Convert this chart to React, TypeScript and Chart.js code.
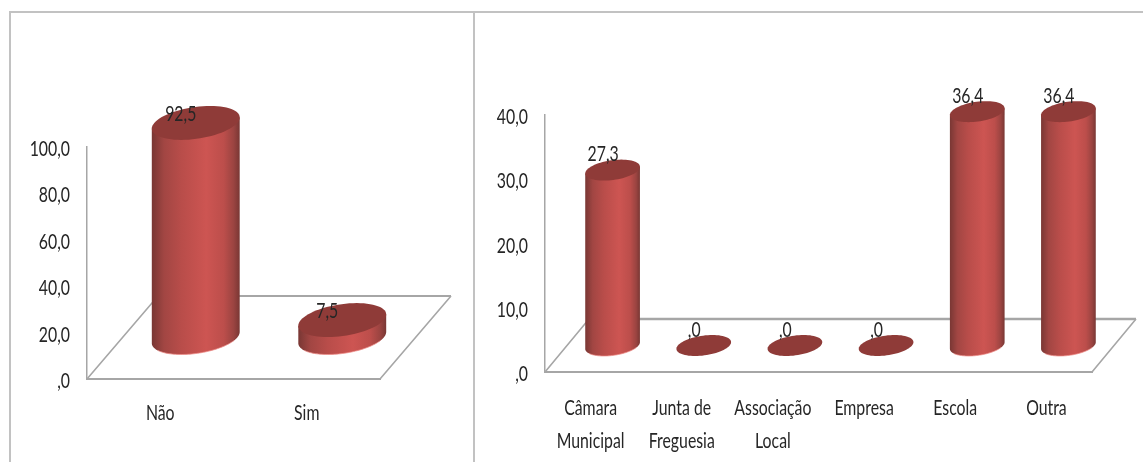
import React, { useEffect, useRef } from "react";
import { Chart, registerables } from "chart.js";

Chart.register(...registerables);

const answerCategories = ["Não", "Sim"];
const answerValues = [92.5, 7.5];

const entityCategories = [
  ["Câmara", "Municipal"],
  ["Junta de", "Freguesia"],
  ["Associação", "Local"],
  ["Empresa"],
  ["Escola"],
  ["Outra"],
];
const entityValues = [27.3, 0, 0, 0, 36.4, 36.4];

const FONT = '22px Lato, "Liberation Sans", sans-serif';
const TEXT_COLOR = "#262626";
const TEXT_SQUEEZE = 0.72;
const FLOOR_COLOR = "#a6a6a6";
const FRAME_COLOR = "#c2c2c2";

// Comma-decimal format; zero is written without a leading digit.
const formatValue = (v: number) =>
  v === 0 ? ",0" : v.toFixed(1).replace(".", ",");

type ChartLook = {
  depthX: number;
  depthY: number;
  capRadiusY: number;
  labelDx: number;
  labelDy: number;
  backLineWidth: number;
  xLabelOffset: number;
  xLineGap: number;
};

// Points along a circle lying on the sheared floor plane.
function capPoint(cx: number, cy: number, u: number, vx: number, vy: number, t: number) {
  return [cx + u * Math.cos(t) + vx * Math.sin(t), cy - vy * Math.sin(t)];
}

// All text is horizontally condensed around its anchor.
function drawCondensed(ctx: CanvasRenderingContext2D, text: string, x: number, y: number, align: CanvasTextAlign) {
  ctx.save();
  ctx.font = FONT;
  ctx.fillStyle = TEXT_COLOR;
  ctx.textAlign = align;
  ctx.textBaseline = "middle";
  ctx.translate(x, y);
  ctx.scale(TEXT_SQUEEZE, 1);
  ctx.fillText(text, 0, 0);
  ctx.restore();
}

const floorAndCylinders = {
  id: "floorAndCylinders",
  beforeDatasetsDraw(chart: any, _args: any, opts: ChartLook) {
    const { ctx, chartArea: a } = chart;
    ctx.save();
    ctx.strokeStyle = FLOOR_COLOR;
    ctx.lineWidth = 1.6;
    ctx.beginPath();
    ctx.moveTo(a.left, a.bottom);
    ctx.lineTo(a.left + opts.depthX, a.bottom - opts.depthY);
    ctx.moveTo(a.right, a.bottom);
    ctx.lineTo(a.right + opts.depthX, a.bottom - opts.depthY);
    ctx.stroke();
    ctx.lineWidth = opts.backLineWidth;
    ctx.beginPath();
    ctx.moveTo(a.left + opts.depthX, a.bottom - opts.depthY);
    ctx.lineTo(a.right + opts.depthX, a.bottom - opts.depthY);
    ctx.stroke();
    ctx.restore();
  },
  afterDatasetsDraw(chart: any, _args: any, opts: ChartLook) {
    const { ctx } = chart;
    const meta = chart.getDatasetMeta(0);
    const values = chart.data.datasets[0].data as number[];
    meta.data.forEach((bar: any, i: number) => {
      const halfW = bar.width / 2;
      const vy = opts.capRadiusY;
      const vx = (vy * opts.depthX) / opts.depthY;
      const u = Math.sqrt(halfW * halfW - vx * vx);
      const t0 = Math.atan2(vx, u);
      const cx = bar.x + opts.depthX / 2;
      const topY = bar.y - opts.depthY / 2;
      const baseY = bar.base - opts.depthY / 2;
      const steps = 72;

      if (values[i] > 0) {
        const grad = ctx.createLinearGradient(cx - halfW, 0, cx + halfW, 0);
        grad.addColorStop(0, "#793734");
        grad.addColorStop(0.14, "#a24643");
        grad.addColorStop(0.34, "#b94d4a");
        grad.addColorStop(0.62, "#cd5552");
        grad.addColorStop(0.82, "#bc4e4b");
        grad.addColorStop(0.93, "#9b4441");
        grad.addColorStop(1, "#793734");
        ctx.beginPath();
        const [lx, ly] = capPoint(cx, topY, u, vx, vy, t0 + Math.PI);
        ctx.moveTo(lx, ly);
        for (let s = 0; s <= steps; s++) {
          const [px, py] = capPoint(cx, baseY, u, vx, vy, t0 + Math.PI + (Math.PI * s) / steps);
          ctx.lineTo(px, py);
        }
        const [rx, ry] = capPoint(cx, topY, u, vx, vy, t0);
        ctx.lineTo(rx, ry);
        ctx.closePath();
        ctx.fillStyle = grad;
        ctx.fill();

        // Thin pale rim along the lower edge of the cylinder.
        ctx.beginPath();
        for (let s = 12; s <= steps - 12; s++) {
          const [px, py] = capPoint(cx, baseY, u, vx, vy, t0 + Math.PI + (Math.PI * s) / steps);
          if (s === 12) ctx.moveTo(px, py);
          else ctx.lineTo(px, py);
        }
        ctx.strokeStyle = "rgba(238,140,136,0.75)";
        ctx.lineWidth = 1;
        ctx.stroke();
      }

      ctx.beginPath();
      for (let s = 0; s <= steps; s++) {
        const [px, py] = capPoint(cx, topY, u, vx, vy, (2 * Math.PI * s) / steps);
        if (s === 0) ctx.moveTo(px, py);
        else ctx.lineTo(px, py);
      }
      ctx.closePath();
      ctx.fillStyle = "#8f3b38";
      ctx.fill();
    });

    // Value labels sit over the top caps.
    meta.data.forEach((bar: any, i: number) => {
      drawCondensed(
        ctx,
        formatValue(values[i]),
        bar.x + opts.depthX / 2 + opts.labelDx,
        bar.y - opts.depthY / 2 + opts.labelDy,
        "center"
      );
    });
  },
  afterDraw(chart: any, _args: any, opts: ChartLook) {
    const { ctx, scales, chartArea } = chart;
    const yAxis = scales.y;
    const xAxis = scales.x;
    yAxis.ticks.forEach((tick: any, i: number) => {
      drawCondensed(ctx, String(tick.label), chartArea.left - 17, yAxis.getPixelForTick(i) + 2, "right");
    });
    xAxis.ticks.forEach((tick: any, i: number) => {
      const lines: string[] = Array.isArray(tick.label) ? tick.label : [tick.label];
      lines.forEach((line, n) => {
        drawCondensed(
          ctx,
          line,
          xAxis.getPixelForTick(i),
          chartArea.bottom + opts.xLabelOffset + n * opts.xLineGap,
          "center"
        );
      });
    });
  },
};

function makeChart(
  canvas: HTMLCanvasElement,
  labels: any[],
  values: number[],
  cfg: {
    max: number;
    step: number;
    axisLeft: number;
    rightPad: number;
    top: number;
    bottom: number;
    look: ChartLook;
  }
) {
  return new Chart(canvas, {
    type: "bar",
    data: {
      labels,
      datasets: [
        {
          data: values,
          backgroundColor: "transparent",
          borderWidth: 0,
          categoryPercentage: 1,
          barPercentage: 0.6,
        },
      ],
    },
    plugins: [floorAndCylinders],
    options: {
      responsive: false,
      animation: false,
      layout: { padding: { left: 0, right: cfg.rightPad, top: cfg.top, bottom: 0 } },
      plugins: {
        legend: { display: false },
        title: { display: false },
        tooltip: { enabled: false },
        floorAndCylinders: cfg.look,
      } as any,
      scales: {
        x: {
          grid: { display: false, drawTicks: false },
          border: { color: FLOOR_COLOR, width: 2 },
          afterFit: (scale: any) => {
            scale.height = 462 - cfg.bottom;
          },
          ticks: { display: false, autoSkip: false },
        },
        y: {
          min: 0,
          max: cfg.max,
          grid: { display: false, drawTicks: false },
          border: { color: FLOOR_COLOR, width: 1.5 },
          afterFit: (scale: any) => {
            scale.width = cfg.axisLeft;
          },
          ticks: {
            display: false,
            stepSize: cfg.step,
            callback: (v: any) => formatValue(Number(v)),
          },
        },
      },
    },
  });
}

export default function App() {
  const leftRef = useRef<HTMLCanvasElement>(null);
  const rightRef = useRef<HTMLCanvasElement>(null);

  useEffect(() => {
    const left = makeChart(leftRef.current!, answerCategories, answerValues, {
      max: 100,
      step: 20,
      axisLeft: 87,
      rightPad: 93,
      top: 147,
      bottom: 379,
      look: {
        depthX: 71,
        depthY: 83,
        capRadiusY: 17,
        labelDx: -15,
        labelDy: -9,
        backLineWidth: 1.8,
        xLabelOffset: 34,
        xLineGap: 33,
      },
    });
    const right = makeChart(rightRef.current!, entityCategories, entityValues, {
      max: 40,
      step: 10,
      axisLeft: 72,
      rightPad: 51,
      top: 115,
      bottom: 372,
      look: {
        depthX: 44,
        depthY: 53,
        capRadiusY: 10.5,
        labelDx: -9.5,
        labelDy: -16,
        backLineWidth: 2.5,
        xLabelOffset: 36,
        xLineGap: 33,
      },
    });
    return () => {
      left.destroy();
      right.destroy();
    };
  }, []);

  return (
    <div style={{ position: "fixed", left: 0, top: 0, width: 1143, height: 462, background: "#fff", overflow: "hidden" }}>
      <div
        style={{
          position: "absolute",
          left: 9,
          top: 11,
          width: 1134,
          height: 451,
          borderTop: `2px solid ${FRAME_COLOR}`,
          borderLeft: `2px solid ${FRAME_COLOR}`,
          boxSizing: "border-box",
        }}
      />
      <div style={{ position: "absolute", left: 473, top: 11, width: 2, height: 451, background: FRAME_COLOR }} />
      <canvas ref={leftRef} width={473} height={462} style={{ position: "absolute", left: 0, top: 0 }} />
      <canvas ref={rightRef} width={670} height={462} style={{ position: "absolute", left: 473, top: 0 }} />
    </div>
  );
}
